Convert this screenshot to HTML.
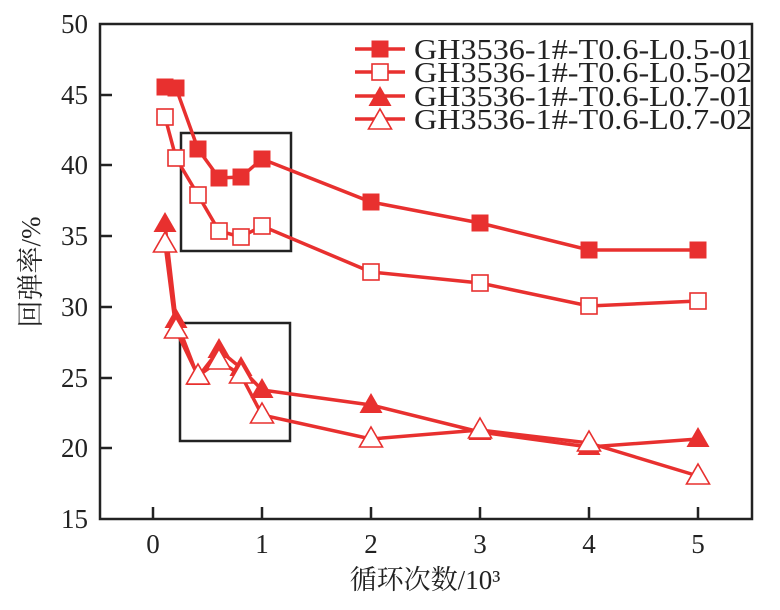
<!DOCTYPE html>
<html><head><meta charset="utf-8"><style>body{margin:0;background:#fff}</style></head><body>
<svg width="780" height="605" xmlns="http://www.w3.org/2000/svg" font-family="Liberation Serif, Noto Serif CJK SC, serif">
<rect x="0" y="0" width="780" height="605" fill="#fff"/>
<g stroke="#222" stroke-width="2.5" fill="none">
<rect x="100" y="24" width="652" height="495"/>
<path d="M100 95h12M100 165h12M100 236h12M100 307h12M100 378h12M100 448h12M153 519v-12M262 519v-12M371 519v-12M480 519v-12M589 519v-12M698 519v-12"/>
<rect x="181" y="133" width="110" height="118" stroke-width="2.5"/>
<rect x="180" y="323" width="110" height="118" stroke-width="2.5"/>
</g>
<g font-size="27" fill="#222" text-anchor="end">
<text x="88" y="33">50</text><text x="88" y="104">45</text><text x="88" y="174">40</text><text x="88" y="245">35</text><text x="88" y="316">30</text><text x="88" y="387">25</text><text x="88" y="457">20</text><text x="88" y="528">15</text>
</g>
<g font-size="27" fill="#222" text-anchor="middle">
<text x="153" y="553">0</text><text x="262" y="553">1</text><text x="371" y="553">2</text><text x="480" y="553">3</text><text x="589" y="553">4</text><text x="698" y="553">5</text>
<text x="425" y="589">循环次数/10³</text>
<text transform="translate(40,272) rotate(-90)">回弹率/%</text>
</g>
<g stroke="#e8302f" stroke-width="3.5" fill="none">
<polyline points="165,87 176,88 198,149 219,178 241,177 262,159 371,202 480,223 589,250 698,250"/>
<polyline points="165,117 176,158 198,195 219,231 241,237 262,226 371,272 480,283 589,306 698,301"/>
<polyline points="165,224 176,320 198,377 219,350 241,368 262,390 371,405 480,432 589,447 698,439"/>
<polyline points="165,244 176,330 198,376 219,361 241,375 262,415 371,439 480,430 589,443 698,476"/>
<path d="M355 49h50M355 72h50M355 96h50M355 119h50"/>
</g>
<defs>
<rect id="fs" x="-8.5" y="-8.5" width="17" height="17" fill="#e8302f"/>
<rect id="os" x="-8" y="-8" width="16" height="16" fill="#fff" stroke="#e8302f" stroke-width="1.6"/>
<path id="ft" d="M0 -12L11.5 8H-11.5Z" fill="#e8302f"/>
<path id="ot" d="M0 -12L11.5 8H-11.5Z" fill="#fff" stroke="#e8302f" stroke-width="1.6"/>
</defs>
<g>
<use href="#fs" x="165" y="87"/><use href="#fs" x="176" y="88"/><use href="#fs" x="198" y="149"/><use href="#fs" x="219" y="178"/><use href="#fs" x="241" y="177"/><use href="#fs" x="262" y="159"/><use href="#fs" x="371" y="202"/><use href="#fs" x="480" y="223"/><use href="#fs" x="589" y="250"/><use href="#fs" x="698" y="250"/>
<use href="#os" x="165" y="117"/><use href="#os" x="176" y="158"/><use href="#os" x="198" y="195"/><use href="#os" x="219" y="231"/><use href="#os" x="241" y="237"/><use href="#os" x="262" y="226"/><use href="#os" x="371" y="272"/><use href="#os" x="480" y="283"/><use href="#os" x="589" y="306"/><use href="#os" x="698" y="301"/>
<use href="#ft" x="165" y="224"/><use href="#ft" x="176" y="320"/><use href="#ft" x="198" y="377"/><use href="#ft" x="219" y="350"/><use href="#ft" x="241" y="368"/><use href="#ft" x="262" y="390"/><use href="#ft" x="371" y="405"/><use href="#ft" x="480" y="432"/><use href="#ft" x="589" y="447"/><use href="#ft" x="698" y="439"/>
<use href="#ot" x="165" y="244"/><use href="#ot" x="176" y="330"/><use href="#ot" x="198" y="376"/><use href="#ot" x="219" y="361"/><use href="#ot" x="241" y="375"/><use href="#ot" x="262" y="415"/><use href="#ot" x="371" y="439"/><use href="#ot" x="480" y="430"/><use href="#ot" x="589" y="443"/><use href="#ot" x="698" y="476"/>
<use href="#fs" x="380" y="49"/><use href="#os" x="380" y="72"/><use href="#ft" x="380" y="98"/><use href="#ot" x="380" y="121"/>
</g>
<g font-size="28" fill="#222">
<text x="414" y="59" textLength="338" lengthAdjust="spacingAndGlyphs">GH3536-1#-T0.6-L0.5-01</text>
<text x="414" y="82" textLength="338" lengthAdjust="spacingAndGlyphs">GH3536-1#-T0.6-L0.5-02</text>
<text x="414" y="106" textLength="338" lengthAdjust="spacingAndGlyphs">GH3536-1#-T0.6-L0.7-01</text>
<text x="414" y="129" textLength="338" lengthAdjust="spacingAndGlyphs">GH3536-1#-T0.6-L0.7-02</text>
</g>
</svg>
</body></html>
